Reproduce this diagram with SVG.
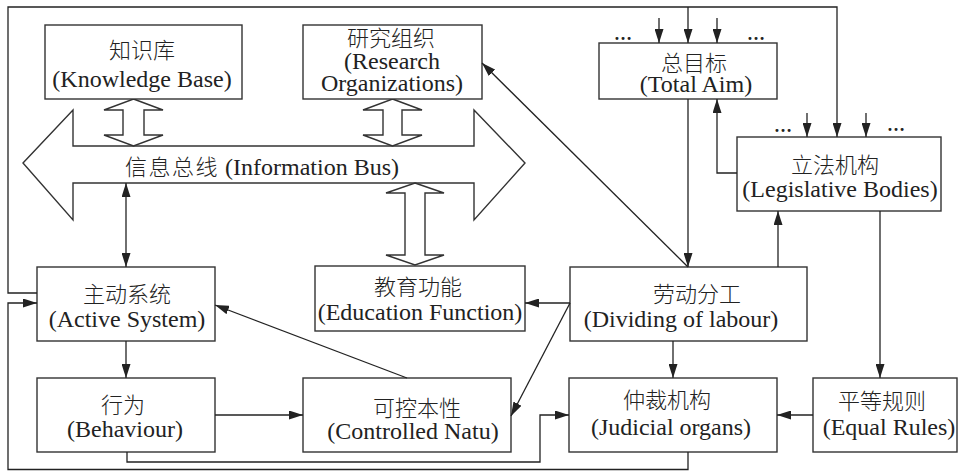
<svg xmlns="http://www.w3.org/2000/svg" width="960" height="471" viewBox="0 0 960 471">
<defs>
<marker id="ah" markerWidth="14" markerHeight="9" refX="14" refY="4.5" orient="auto-start-reverse" markerUnits="userSpaceOnUse"><path d="M0,0 L14,4.5 L0,9 z" fill="#222"/></marker>
</defs>
<style>
rect,.big{fill:#fff;stroke:#333;stroke-width:1.4}
.c path{fill:none;stroke:#222;stroke-width:1.3}
.c .a{marker-end:url(#ah)}
text{fill:#222;text-anchor:middle}
.en{font-size:24px;font-family:'Liberation Serif','Times New Roman',Tinos,serif}
.cn{font-size:22px;font-family:'Noto Sans CJK SC',sans-serif;font-weight:300}
.dots{font-size:18px;font-weight:bold;font-family:'Liberation Serif',serif}
</style>
<rect width="960" height="471" style="fill:#fff;stroke:none"/>
<g id="bus">
<polygon class="big" points="23,163 73,110 73,146 474,146 474,110 525,163 474,220 474,183 73,183 73,220"/>
<polygon class="big" points="133.5,99 163,110 144,110 144,135 163,135 133.5,146 104,135 123,135 123,110 104,110"/>
<polygon class="big" points="392.5,99 422,110 402,110 402,135 422,135 392.5,146 363,135 383,135 383,110 363,110"/>
<polygon class="big" points="415,183 444,193 425,193 425,255 444,255 415,265 386,255 405,255 405,193 386,193"/>
<text x="125" y="175" style="text-anchor:start"><tspan class="cn" style="letter-spacing:1.5px">信息总线</tspan><tspan class="en"> (Information Bus)</tspan></text>
</g>
<g id="knowledge">
<rect x="45" y="25" width="197" height="74"/>
<text class="cn" x="142" y="58">知识库</text>
<text class="en" x="142" y="87">(Knowledge Base)</text>
</g>
<g id="research">
<rect x="303" y="25" width="179" height="74"/>
<text class="cn" x="391" y="46">研究组织</text>
<text class="en" x="392" y="69">(Research</text>
<text class="en" x="392" y="91">Organizations)</text>
</g>
<g id="totalaim">
<rect x="599" y="43" width="178" height="56"/>
<text class="cn" x="694" y="71">总目标</text>
<text class="en" x="696" y="92">(Total Aim)</text>
</g>
<g id="legislative">
<rect x="737" y="137" width="204" height="74"/>
<text class="cn" x="835" y="173">立法机构</text>
<text class="en" x="840" y="197">(Legislative Bodies)</text>
</g>
<g id="active">
<rect x="37" y="267" width="178" height="74"/>
<text class="cn" x="127" y="302">主动系统</text>
<text class="en" x="127" y="327">(Active System)</text>
</g>
<g id="behaviour">
<rect x="37" y="378" width="178" height="74"/>
<text class="cn" x="123" y="413">行为</text>
<text class="en" x="125" y="437">(Behaviour)</text>
</g>
<g id="education">
<rect x="315" y="266" width="210" height="65"/>
<text class="cn" x="418" y="295">教育功能</text>
<text class="en" x="420" y="320">(Education Function)</text>
</g>
<g id="controlled">
<rect x="303" y="378" width="208" height="74"/>
<text class="cn" x="417" y="416">可控本性</text>
<text class="en" x="413" y="439">(Controlled Natu)</text>
</g>
<g id="dividing">
<rect x="570" y="267" width="237" height="74"/>
<text class="cn" x="697" y="302">劳动分工</text>
<text class="en" x="681" y="327">(Dividing of labour)</text>
</g>
<g id="judicial">
<rect x="569" y="378" width="208" height="74"/>
<text class="cn" x="667" y="408">仲裁机构</text>
<text class="en" x="671" y="435">(Judicial organs)</text>
</g>
<g id="equal">
<rect x="813" y="378" width="144" height="74"/>
<text class="cn" x="882" y="409">平等规则</text>
<text class="en" x="889" y="435">(Equal Rules)</text>
</g>
<g id="dots">
<text class="dots" x="623" y="40">…</text>
<text class="dots" x="756" y="40">…</text>
<text class="dots" x="783" y="132">…</text>
<text class="dots" x="896" y="131">…</text>
</g>
<g id="connectors" class="c">
<path class="a" d="M37,293 H8 V7 H837 V137"/>
<path class="a" d="M688,7 V43"/>
<path class="a" d="M688,99 V267"/>
<path class="a" d="M659,18 V43"/>
<path class="a" d="M717,18 V43"/>
<path class="a" d="M807,113 V137"/>
<path class="a" d="M866,113 V137"/>
<path class="a" d="M737,173 H717 V99"/>
<path class="a" d="M778,267 V211"/>
<path class="a" d="M880,211 V378"/>
<path class="a" d="M813,415 H777"/>
<path class="a" d="M673,341 V378"/>
<path class="a" d="M688,267 L482,63"/>
<path class="a" d="M570,303 H525"/>
<path class="a" d="M570,303 L511,416"/>
<path class="a" d="M407,378 L215,305"/>
<path class="a" d="M126,341 V378"/>
<path class="a" d="M215,415 H303"/>
<path class="a" d="M127,452 V462 H540 V415 H569"/>
<path class="a" d="M688,452 V469.5 H8 V303 H37"/>
<path class="a" d="M126,183 V267" style="marker-start:url(#ah)"/>
</g>
</svg>
